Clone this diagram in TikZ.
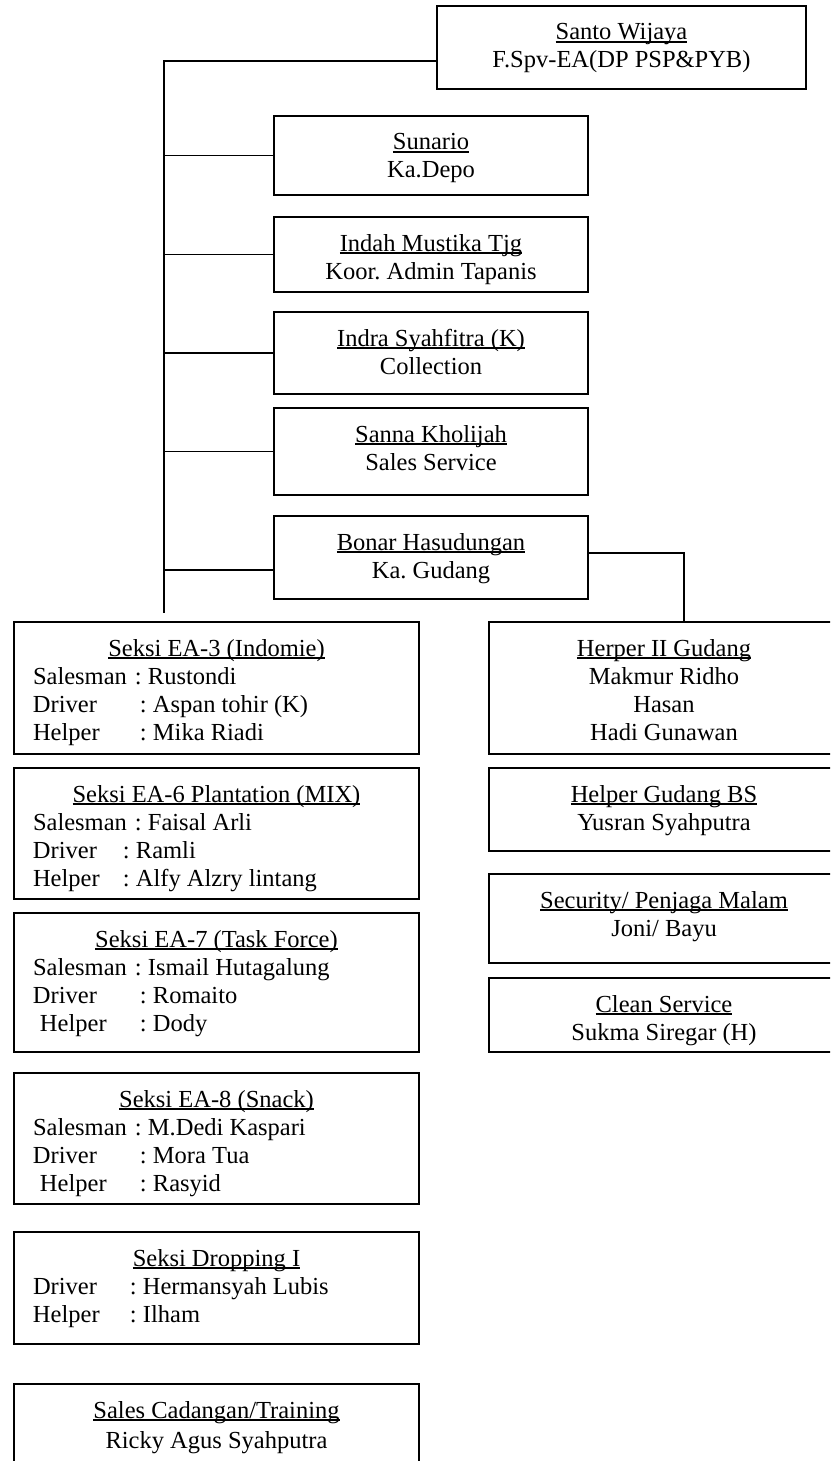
\documentclass[tikz,border=0pt]{standalone}
\usepackage{fontspec}
\setmainfont{Liberation Serif}
\frenchspacing

\newlength{\pxu}
\setlength{\pxu}{0.5pt}
\newsavebox{\ulbox}
\newcommand{\ul}[1]{\sbox{\ulbox}{#1}\rlap{\rule[-1.3pt]{\wd\ulbox}{0.6pt}}\usebox{\ulbox}}
\newcommand{\ctext}[3]{\parbox[c][#2\pxu][t]{#1\pxu}{\centering\rule{0pt}{17pt}#3}}
\newcommand{\ltext}[3]{\parbox[c][#2\pxu][t]{#1\pxu}{\rule{0pt}{17pt}#3}}
\newcommand{\role}[4][19]{\hspace*{#1\pxu}\makebox[#2\pxu][l]{#3}: #4}

\tikzset{
    box/.style={draw, rectangle, inner sep=0pt, font=\fontsize{12.25}{14}\selectfont}
}

\begin{document}
\begin{tikzpicture}[x=0.5pt, y=-0.5pt, line width=0.9pt]

    \path[use as bounding box, clip] (0,0) rectangle (830,1461);

    \node[box] (santo) at (621.5,47.5) {\ctext{369}{83}{\ul{Santo Wijaya}\\F.Spv-EA(DP PSP\&PYB)}};
    \node[box] (sunario) at (431,155.5) {\ctext{314}{79}{\ul{Sunario}\\Ka.Depo}};
    \node[box] (indah) at (431,254.5) {\ctext{314}{75}{\ul{Indah Mustika Tjg}\\Koor. Admin Tapanis}};
    \node[box] (indra) at (431,353) {\ctext{314}{82}{\ul{Indra Syahfitra (K)}\\Collection}};
    \node[box] (sanna) at (431,451.5) {\ctext{314}{87}{\ul{Sanna Kholijah}\\Sales Service}};
    \node[box] (bonar) at (431,557.5) {\ctext{314}{83}{\ul{Bonar Hasudungan}\\Ka. Gudang}};

    \node[box] (ea3) at (216.5,688) {\ltext{405}{132}{\makebox[\linewidth]{\ul{Seksi EA-3 (Indomie)}}\\
        \role{102}{Salesman}{Rustondi}\\ \role{107}{Driver}{Aspan tohir (K)}\\ \role{107}{Helper}{Mika Riadi}}};
    \node[box] (ea6) at (216.5,833.5) {\ltext{405}{131}{\makebox[\linewidth]{\ul{Seksi EA-6 Plantation (MIX)}}\\
        \role{102}{Salesman}{Faisal Arli}\\ \role{90}{Driver}{Ramli}\\ \role{90}{Helper}{Alfy Alzry lintang}}};
    \node[box] (ea7) at (216.5,982.5) {\ltext{405}{139}{\makebox[\linewidth]{\ul{Seksi EA-7 (Task Force)}}\\
        \role{102}{Salesman}{Ismail Hutagalung}\\ \role{107}{Driver}{Romaito}\\ \role[26]{100}{Helper}{Dody}}};
    \node[box] (ea8) at (216.5,1138.5) {\ltext{405}{131}{\makebox[\linewidth]{\ul{Seksi EA-8 (Snack)}}\\
        \role{102}{Salesman}{M.Dedi Kaspari}\\ \role{107}{Driver}{Mora Tua}\\ \role[26]{100}{Helper}{Rasyid}}};
    \node[box] (dropping) at (216.5,1288) {\ltext{405}{112}{\makebox[\linewidth]{\ul{Seksi Dropping I}}\\
        \role{97}{Driver}{Hermansyah Lubis}\\ \role{97}{Helper}{Ilham}}};
    \node[box] (cadangan) at (216.5,1424) {\ctext{405}{80}{\ul{Sales Cadangan/Training}\\[1pt]Ricky Agus Syahputra}};

    \node[box] (herper) at (664,688) {\ctext{350}{132}{\ul{Herper II Gudang}\\Makmur Ridho\\Hasan\\Hadi Gunawan}};
    \node[box] (gudangbs) at (664,809.5) {\ctext{350}{83}{\ul{Helper Gudang BS}\\Yusran Syahputra}};
    \node[box] (security) at (664,918.5) {\ctext{350}{89}{\ul{Security/ Penjaga Malam}\\Joni/ Bayu}};
    \node[box] (clean) at (664,1015) {\ctext{350}{74}{\ul{Clean Service}\\Sukma Siregar (H)}};

    % lines
    \coordinate (trunktop) at (164,61);
    \coordinate (trunkend) at (164,613);
    \draw ([yshift=-6.75pt]santo.west) -- (trunktop) -- (trunkend);
    \foreach \n in {sunario,indah,indra,sanna}
        \draw (\n.west) -- (\n.west -| trunktop);
    \coordinate (bonarin) at ([yshift=-6.25pt]bonar.west);
    \draw (bonarin) -- (bonarin -| trunktop);
    \coordinate (bonarout) at ([yshift=2.25pt]bonar.east);
    \draw (bonarout) -| ([xshift=10pt]herper.north);

\end{tikzpicture}
\end{document}
